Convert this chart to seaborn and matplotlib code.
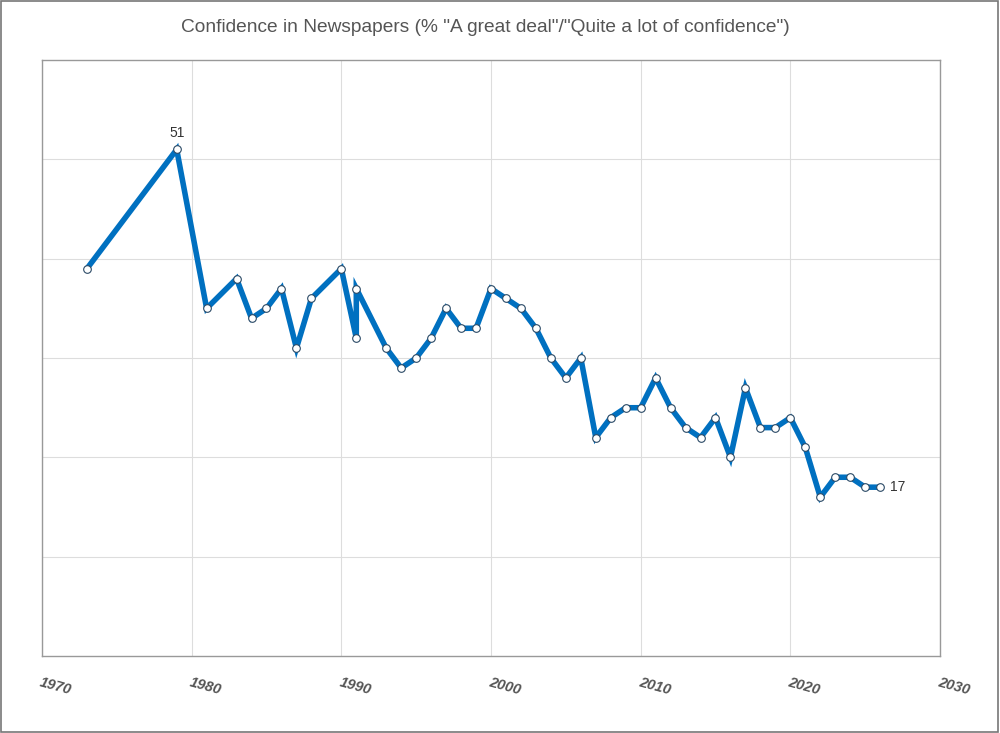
import matplotlib
matplotlib.use("Agg")
import matplotlib.pyplot as plt
import seaborn as sns
import pandas as pd
from matplotlib.patches import Rectangle

years = [1973, 1979, 1981, 1983, 1984, 1985, 1986, 1987, 1988, 1990, 1991, 1991,
         1993, 1994, 1995, 1996, 1997, 1998, 1999, 2000, 2001, 2002, 2003, 2004,
         2005, 2006, 2007, 2008, 2009, 2010, 2011, 2012, 2013, 2014, 2015, 2016,
         2017, 2018, 2019, 2020, 2021, 2022, 2023, 2024, 2025, 2026]
values = [39, 51, 35, 38, 34, 35, 37, 31, 36, 39, 32, 37,
          31, 29, 30, 32, 35, 33, 33, 37, 36, 35, 33, 30,
          28, 30, 22, 24, 25, 25, 28, 25, 23, 22, 24, 20,
          27, 23, 23, 24, 21, 16, 18, 18, 17, 17]
x_ticks = [1970, 1980, 1990, 2000, 2010, 2020, 2030]
y_grid = [10, 20, 30, 40, 50]
title = 'Confidence in Newspapers (% "A great deal"/"Quite a lot of confidence")'

df = pd.DataFrame({"year": years, "value": values})

sns.set_theme(style="white")
plt.rcParams["font.family"] = ["Liberation Sans", "DejaVu Sans"]

fig = plt.figure(figsize=(10, 7.33), dpi=100)
ax = fig.add_axes([0.042, 0.105, 0.898, 0.813])

sns.lineplot(data=df, x="year", y="value", sort=False, estimator=None, ax=ax,
             color="#0070C0", linewidth=4.0, marker="o", markersize=5.5,
             markerfacecolor="white", markeredgecolor="#2b4a66",
             markeredgewidth=0.8, solid_joinstyle="miter")

ax.set_xlim(1970, 2030)
ax.set_ylim(0, 60)
ax.set_xticks(x_ticks)
ax.set_yticks(y_grid)
ax.set_yticklabels([])
ax.tick_params(axis="y", length=0)
ax.tick_params(axis="x", length=0, pad=14)
ax.set_xticklabels([str(t) for t in x_ticks], rotation=-15, ha="left", va="top",
                   rotation_mode="anchor", fontsize=10.5, fontweight="bold",
                   fontstyle="italic", color="#555555")
ax.grid(True, color="#dddddd", linewidth=0.8)
ax.set_axisbelow(True)
ax.set_xlabel("")
ax.set_ylabel("")
for s in ax.spines.values():
    s.set_color("#999999")
    s.set_linewidth(1)

# data labels
imax = values.index(max(values))
ax.annotate(str(values[imax]), (years[imax], values[imax]), xytext=(0, 7),
            textcoords="offset points", ha="center", va="bottom",
            fontsize=10, color="#333333")
ax.annotate(str(values[-1]), (years[-1], values[-1]), xytext=(7, 0),
            textcoords="offset points", ha="left", va="center",
            fontsize=10, color="#333333")

fig.text(0.485, 0.962, title, ha="center", va="center", fontsize=13.8,
         color="#555555")

fig.patches.append(Rectangle((0.001, 0.002), 0.997, 0.996, transform=fig.transFigure,
                             fill=False, edgecolor="#777777", linewidth=1.2))

fig.savefig("out.png", dpi=100, facecolor="white")
